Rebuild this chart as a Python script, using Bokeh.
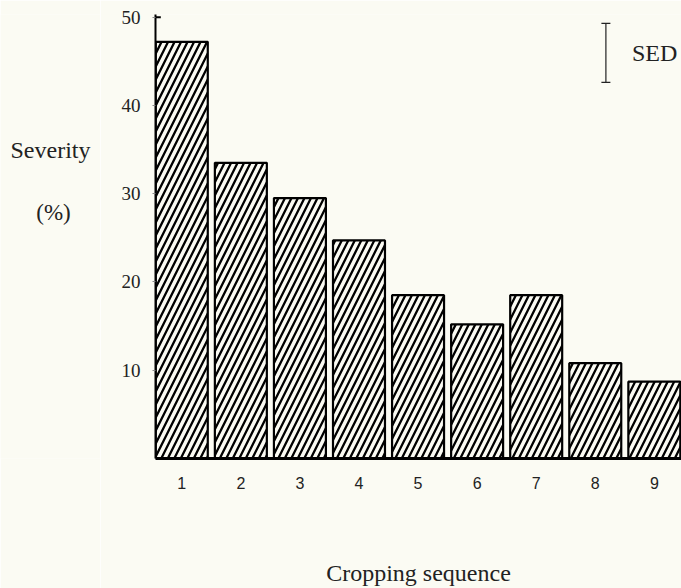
from bokeh.plotting import figure
from bokeh.layouts import row
from bokeh.models import ColumnDataSource, Label, Whisker, Range1d, FixedTicker, TeeHead
from bokeh.embed import file_html
from bokeh.resources import INLINE

# ---- data ----
sequences = [1, 2, 3, 4, 5, 6, 7, 8, 9]
severity = [47.2, 33.5, 29.5, 24.7, 18.5, 15.2, 18.5, 10.8, 8.7]
y_ticks = [10, 20, 30, 40, 50]
sed_value = 6.7

BG = "#fbfbf3"
INK = "#222222"
SERIF = "Liberation Serif"
SANS = "Liberation Sans"

X_START, X_END = 0.555, 9.46
y_range = Range1d(0, 50.3)

# ---- left panel holding the horizontal y title ----
t = figure(width=100, height=588, output_backend="svg", toolbar_location=None,
           x_range=Range1d(0, 100), y_range=y_range,
           x_axis_location=None, y_axis_location=None,
           min_border_left=0, min_border_right=0, min_border_top=14, min_border_bottom=128)
t.background_fill_color = BG
t.border_fill_color = BG
t.outline_line_color = None
t.xgrid.grid_line_color = None
t.ygrid.grid_line_color = None
t.add_layout(Label(x=50, y=34.95, text="Severity", text_font=SERIF,
                   text_font_size="24px", text_color=INK,
                   text_align="center", text_baseline="middle"))
t.add_layout(Label(x=53, y=27.85, text="(%)", text_font=SERIF,
                   text_font_size="23px", text_color=INK,
                   text_align="center", text_baseline="middle"))

# ---- main chart ----
p = figure(width=581, height=588, output_backend="svg", toolbar_location=None,
           x_range=Range1d(X_START, X_END), y_range=y_range,
           min_border_left=55, min_border_right=0, min_border_top=14,
           min_border_bottom=128)
p.background_fill_color = BG
p.border_fill_color = BG
p.outline_line_color = None
p.xgrid.grid_line_color = None
p.ygrid.grid_line_color = None

src = ColumnDataSource(dict(x=sequences, top=severity))
p.vbar(x="x", top="top", width=0.88, bottom=0, source=src,
       fill_color=BG, line_color="black", line_width=2.2,
       hatch_pattern="/", hatch_color="black", hatch_scale=13, hatch_weight=2.3)

# small inward tick at the top of the y axis
p.segment(x0=[X_START], y0=[y_ticks[-1]], x1=[X_START + 0.09], y1=[y_ticks[-1]],
          line_color="black", line_width=2)

# x axis
p.xaxis.ticker = FixedTicker(ticks=sequences)
p.xaxis.major_tick_line_color = None
p.xaxis.minor_tick_line_color = None
p.xaxis.axis_line_width = 3
p.xaxis.axis_line_color = "black"
p.xaxis.major_label_text_font = SANS
p.xaxis.major_label_text_font_size = "16px"
p.xaxis.major_label_text_color = INK
p.xaxis.major_label_standoff = 12
p.xaxis.axis_label = "Cropping sequence"
p.xaxis.axis_label_text_font = SERIF
p.xaxis.axis_label_text_font_style = "normal"
p.xaxis.axis_label_text_font_size = "24px"
p.xaxis.axis_label_text_color = INK
p.xaxis.axis_label_standoff = 68

# y axis
p.yaxis.ticker = FixedTicker(ticks=y_ticks)
p.yaxis.minor_tick_line_color = None
p.yaxis.major_tick_in = 0
p.yaxis.major_tick_out = 3
p.yaxis.major_tick_line_color = "#888888"
p.yaxis.axis_line_width = 2
p.yaxis.axis_line_color = "black"
p.yaxis.major_label_text_font = SERIF
p.yaxis.major_label_text_font_size = "19px"
p.yaxis.major_label_text_color = INK
p.yaxis.major_label_standoff = 12

# SED bar
sed_x = 8.18
sed_top = 49.3
sed_src = ColumnDataSource(dict(x=[sed_x], upper=[sed_top], lower=[sed_top - sed_value]))
p.add_layout(Whisker(base="x", upper="upper", lower="lower", source=sed_src,
                     dimension="height", line_color=INK, line_width=1.2,
                     upper_head=TeeHead(size=9, line_color=INK, line_width=1.2),
                     lower_head=TeeHead(size=9, line_color=INK, line_width=1.2)))
p.add_layout(Label(x=8.62, y=sed_top - sed_value / 2, text="SED", text_font=SERIF,
                   text_font_size="24px", text_color=INK,
                   text_align="left", text_baseline="middle"))

layout = row(t, p, spacing=0)
open("out.html", "w").write(file_html(layout, INLINE))
